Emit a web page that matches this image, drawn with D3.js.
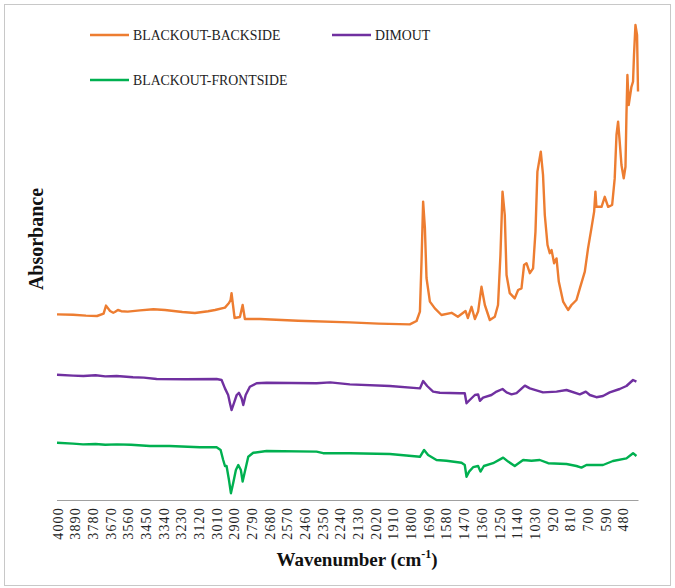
<!DOCTYPE html>
<html>
<head>
<meta charset="utf-8">
<script src="https://cdn.jsdelivr.net/npm/d3@7/dist/d3.min.js"></script>
<style>
  html, body { margin: 0; padding: 0; background: #fff; }
  svg { display: block; }
</style>
</head>
<body>
<svg id="chart" width="675" height="588"></svg>
<script>
// FTIR spectra: [wavenumber (cm-1), absorbance (a.u.)]
const blackoutBackside = [
  [4000,0.464],[3900,0.463],[3820,0.461],[3751,0.460],[3710,0.466],[3695,0.486],[3670,0.4725],[3650,0.468],
  [3640,0.470],[3621,0.475],[3600,0.472],[3560,0.471],[3484,0.474],[3400,0.477],[3328,0.475],[3220,0.470],
  [3142,0.4675],[3060,0.472],[3017,0.475],[2955,0.481],[2930,0.4925],[2920,0.500],[2914,0.517],[2905,0.4875],
  [2895,0.455],[2862,0.4575],[2845,0.4875],[2831,0.4525],[2738,0.4525],[2500,0.448],[2178,0.444],[2000,0.441],
  [1805,0.439],[1763,0.4475],[1742,0.471],[1732,0.596],[1722,0.746],[1711,0.680],[1701,0.555],[1680,0.496],
  [1649,0.479],[1608,0.4625],[1545,0.468],[1506,0.458],[1458,0.4725],[1444,0.455],[1421,0.483],[1400,0.4525],
  [1380,0.471],[1359,0.533],[1338,0.4875],[1307,0.450],[1276,0.458],[1256,0.4875],[1241,0.6125],[1228,0.771],
  [1214,0.7125],[1203,0.5625],[1183,0.517],[1152,0.504],[1131,0.525],[1110,0.529],[1094,0.5875],[1079,0.592],
  [1058,0.567],[1038,0.579],[1023,0.671],[1011,0.821],[990,0.871],[976,0.8125],[965,0.7125],[948,0.6375],
  [934,0.617],[923,0.625],[907,0.592],[892,0.604],[878,0.546],[851,0.496],[820,0.475],[799,0.4875],
  [768,0.500],[747,0.529],[716,0.571],[696,0.629],[675,0.679],[658,0.721],[650,0.771],[644,0.733],
  [612,0.733],[592,0.758],[571,0.733],[546,0.7375],[530,0.804],[519,0.9125],[509,0.946],[499,0.896],
  [488,0.8375],[474,0.804],[463,0.833],[457,0.9625],[451,1.0625],[443,0.9875],[426,1.033],[416,1.046],
  [410,1.1125],[401,1.1875],[391,1.1625],[385,1.021]
];

const dimout = [
  [4000,0.313],[3900,0.311],[3836,0.310],[3760,0.312],[3700,0.309],[3629,0.310],[3527,0.307],[3460,0.306],
  [3380,0.3025],[3200,0.302],[3007,0.3025],[2976,0.300],[2955,0.279],[2935,0.2625],[2924,0.242],[2914,0.225],
  [2899,0.242],[2882,0.2625],[2868,0.268],[2851,0.254],[2841,0.2375],[2826,0.2625],[2800,0.283],[2758,0.292],
  [2696,0.293],[2385,0.292],[2300,0.294],[2178,0.289],[1929,0.285],[1742,0.279],[1722,0.2975],[1697,0.285],
  [1660,0.271],[1618,0.268],[1494,0.267],[1463,0.267],[1452,0.242],[1432,0.250],[1400,0.2625],[1380,0.264],
  [1369,0.248],[1349,0.256],[1297,0.2625],[1265,0.271],[1228,0.2775],[1203,0.269],[1172,0.264],[1141,0.267],
  [1089,0.286],[1058,0.279],[1007,0.273],[976,0.269],[892,0.271],[830,0.275],[747,0.264],[710,0.271],
  [685,0.2625],[644,0.257],[603,0.260],[561,0.269],[499,0.2775],[457,0.285],[416,0.300],[395,0.296]
];

const blackoutFrontside = [
  [4000,0.143],[3900,0.141],[3838,0.139],[3760,0.140],[3700,0.138],[3627,0.139],[3540,0.138],[3422,0.135],
  [3300,0.135],[3111,0.132],[3007,0.132],[2982,0.125],[2966,0.100],[2955,0.085],[2945,0.085],[2930,0.050],
  [2918,0.017],[2904,0.042],[2887,0.075],[2872,0.0875],[2856,0.075],[2845,0.046],[2831,0.071],[2810,0.108],
  [2779,0.118],[2696,0.1225],[2385,0.121],[2344,0.117],[2178,0.117],[1929,0.115],[1742,0.108],[1716,0.125],
  [1691,0.1125],[1639,0.100],[1577,0.098],[1483,0.093],[1463,0.0875],[1452,0.058],[1436,0.071],[1411,0.082],
  [1380,0.085],[1365,0.071],[1344,0.085],[1287,0.092],[1224,0.106],[1193,0.096],[1152,0.085],[1100,0.100],
  [1048,0.098],[996,0.100],[944,0.092],[830,0.090],[768,0.085],[737,0.081],[706,0.0875],[603,0.0875],
  [541,0.0975],[457,0.104],[416,0.117],[395,0.110]
];

const seriesNames = ["BLACKOUT-BACKSIDE", "DIMOUT", "BLACKOUT-FRONTSIDE"];
const seriesColors = ["#ED7D31", "#7030A0", "#00B050"];
const seriesData = [blackoutBackside, dimout, blackoutFrontside];

// Tick labels every 110 cm-1 from 4000 down to 480
const tickValues = d3.range(4000, 479, -110);

const serif = "'Liberation Serif', 'Times New Roman', serif";
const svg = d3.select("#chart");

// outer frame
svg.append("rect")
  .attr("x", 4.5).attr("y", 4.5)
  .attr("width", 666).attr("height", 581)
  .attr("fill", "#fff")
  .attr("stroke", "#c8c8c8")
  .attr("stroke-width", 1);

const x = d3.scaleLinear().domain([4000, 382]).range([57, 638.5]);
const y = d3.scaleLinear().domain([0, 1.2]).range([500, 20]);

// x axis
const xAxis = d3.axisBottom(x)
  .tickValues(tickValues)
  .tickFormat(d3.format("d"))
  .tickSize(0)
  .tickPadding(0);

const gx = svg.append("g")
  .attr("transform", "translate(0,500)")
  .call(xAxis);
gx.select(".domain").remove();
gx.append("line")
  .attr("x1", 57).attr("x2", 638.5)
  .attr("y1", 0.5).attr("y2", 0.5)
  .attr("stroke", "#a0a0a0").attr("stroke-width", 1);
gx.selectAll(".tick text")
  .attr("transform", "translate(0,7) rotate(-90)")
  .attr("x", 0).attr("y", 0)
  .attr("dy", "0.36em")
  .attr("text-anchor", "end")
  .attr("fill", "#222")
  .style("font-family", serif)
  .style("font-size", "14px")
  .style("letter-spacing", "1.2px");

// spectra
const line = d3.line()
  .x(d => x(d[0]))
  .y(d => y(d[1]))
  .curve(d3.curveLinear);

seriesData.forEach((data, i) => {
  svg.append("path")
    .datum(data)
    .attr("fill", "none")
    .attr("stroke", seriesColors[i])
    .attr("stroke-width", 2.4)
    .attr("stroke-linejoin", "round")
    .attr("d", line);
});

// legend
const legendPos = [
  {lx: 90, ly: 35},
  {lx: 332, ly: 35},
  {lx: 90, ly: 80}
];
const legend = svg.append("g");
seriesNames.forEach((name, i) => {
  const p = legendPos[i];
  legend.append("line")
    .attr("x1", p.lx).attr("x2", p.lx + 39)
    .attr("y1", p.ly).attr("y2", p.ly)
    .attr("stroke", seriesColors[i])
    .attr("stroke-width", 2.4);
  legend.append("text")
    .attr("x", p.lx + 43)
    .attr("y", p.ly + 4.5)
    .attr("fill", "#222")
    .style("font-family", serif)
    .style("font-size", "13.8px")
    .text(name);
});

// axis titles
const xTitle = svg.append("text")
  .attr("x", 357)
  .attr("y", 566)
  .attr("text-anchor", "middle")
  .attr("fill", "#111")
  .style("font-family", serif)
  .style("font-size", "19px")
  .style("font-weight", "bold");
xTitle.append("tspan").text("Wavenumber (cm");
xTitle.append("tspan").attr("dy", -8).style("font-size", "12px").text("-1");
xTitle.append("tspan").attr("dy", 8).text(")");

svg.append("text")
  .attr("transform", "translate(43,239) rotate(-90)")
  .attr("text-anchor", "middle")
  .attr("fill", "#111")
  .style("font-family", serif)
  .style("font-size", "20px")
  .style("font-weight", "bold")
  .text("Absorbance");
</script>
</body>
</html>
